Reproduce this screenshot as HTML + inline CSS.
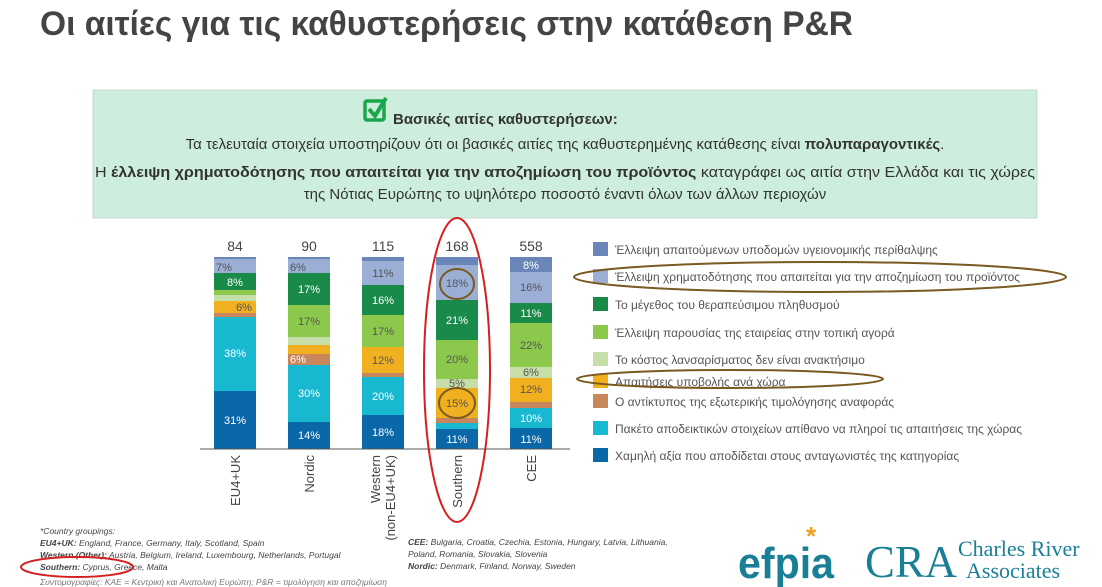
<!DOCTYPE html>
<html><head><meta charset="utf-8"><style>
html,body{margin:0;padding:0;background:#fff;}
svg{display:block;font-family:"Liberation Sans","DejaVu Sans",sans-serif;}
</style></head><body>
<svg width="1102" height="587" viewBox="0 0 1102 587" xmlns="http://www.w3.org/2000/svg">
<text x="40" y="35" font-size="34" font-weight="bold" fill="#444" textLength="813" lengthAdjust="spacingAndGlyphs">Οι αιτίες για τις καθυστερήσεις στην κατάθεση P&amp;R</text>
<rect x="93" y="90" width="944" height="128" fill="#cdeedd" stroke="#c8d8cf"/>
<rect x="365" y="101" width="19" height="19" fill="none" stroke="#1aa64a" stroke-width="3.5" rx="2"/>
<path d="M369 109 L375 116 L386 98" fill="none" stroke="#1aa64a" stroke-width="4"/>
<text x="393" y="124" font-size="15" font-weight="bold" fill="#333">Βασικές αιτίες καθυστερήσεων:</text>
<text x="565" y="149" font-size="15" fill="#333" text-anchor="middle">Τα τελευταία στοιχεία υποστηρίζουν ότι οι βασικές αιτίες της καθυστερημένης κατάθεσης είναι <tspan font-weight="bold">πολυπαραγοντικές</tspan>.</text>
<text x="565" y="177" font-size="15" fill="#333" text-anchor="middle" textLength="940" lengthAdjust="spacingAndGlyphs">Η <tspan font-weight="bold">έλλειψη χρηματοδότησης που απαιτείται για την αποζημίωση του προϊόντος</tspan> καταγράφει ως αιτία στην Ελλάδα και τις χώρες</text>
<text x="565" y="199" font-size="15" fill="#333" text-anchor="middle">της Νότιας Ευρώπης το υψηλότερο ποσοστό έναντι όλων των άλλων περιοχών</text>

<!-- bars -->
<g>
<!-- EU4+UK x214 -->
<rect x="214" y="257" width="42" height="2" fill="#6a86b8"/>
<rect x="214" y="259" width="42" height="14" fill="#9aaed6"/>
<rect x="214" y="273" width="42" height="17" fill="#1a8a4a"/>
<rect x="214" y="290" width="42" height="5" fill="#8cc84b"/>
<rect x="214" y="295" width="42" height="6" fill="#c6dea8"/>
<rect x="214" y="301" width="42" height="12" fill="#f0b020"/>
<rect x="214" y="313" width="42" height="4" fill="#c8875a"/>
<rect x="214" y="317" width="42" height="74" fill="#17b8d0"/>
<rect x="214" y="391" width="42" height="58" fill="#0a68a8"/>
<!-- Nordic -->
<rect x="288" y="257" width="42" height="2" fill="#6a86b8"/>
<rect x="288" y="259" width="42" height="14" fill="#9aaed6"/>
<rect x="288" y="273" width="42" height="32" fill="#1a8a4a"/>
<rect x="288" y="305" width="42" height="32" fill="#8cc84b"/>
<rect x="288" y="337" width="42" height="8" fill="#c6dea8"/>
<rect x="288" y="345" width="42" height="9" fill="#f0b020"/>
<rect x="288" y="354" width="42" height="11" fill="#c8875a"/>
<rect x="288" y="365" width="42" height="57" fill="#17b8d0"/>
<rect x="288" y="422" width="42" height="27" fill="#0a68a8"/>
<!-- Western -->
<rect x="362" y="257" width="42" height="4" fill="#6a86b8"/>
<rect x="362" y="261" width="42" height="24" fill="#9aaed6"/>
<rect x="362" y="285" width="42" height="30" fill="#1a8a4a"/>
<rect x="362" y="315" width="42" height="32" fill="#8cc84b"/>
<rect x="362" y="347" width="42" height="26" fill="#f0b020"/>
<rect x="362" y="373" width="42" height="4" fill="#c8875a"/>
<rect x="362" y="377" width="42" height="38" fill="#17b8d0"/>
<rect x="362" y="415" width="42" height="34" fill="#0a68a8"/>
<!-- Southern -->
<rect x="436" y="257" width="42" height="8" fill="#6a86b8"/>
<rect x="436" y="265" width="42" height="35" fill="#9aaed6"/>
<rect x="436" y="300" width="42" height="40" fill="#1a8a4a"/>
<rect x="436" y="340" width="42" height="39" fill="#8cc84b"/>
<rect x="436" y="379" width="42" height="9" fill="#c6dea8"/>
<rect x="436" y="388" width="42" height="30" fill="#f0b020"/>
<rect x="436" y="418" width="42" height="5" fill="#c8875a"/>
<rect x="436" y="423" width="42" height="6" fill="#17b8d0"/>
<rect x="436" y="429" width="42" height="20" fill="#0a68a8"/>
<!-- CEE -->
<rect x="510" y="257" width="42" height="15" fill="#6a86b8"/>
<rect x="510" y="272" width="42" height="31" fill="#9aaed6"/>
<rect x="510" y="303" width="42" height="20" fill="#1a8a4a"/>
<rect x="510" y="323" width="42" height="44" fill="#8cc84b"/>
<rect x="510" y="367" width="42" height="11" fill="#c6dea8"/>
<rect x="510" y="378" width="42" height="24" fill="#f0b020"/>
<rect x="510" y="402" width="42" height="6" fill="#c8875a"/>
<rect x="510" y="408" width="42" height="20" fill="#17b8d0"/>
<rect x="510" y="428" width="42" height="21" fill="#0a68a8"/>
</g>
<line x1="200" y1="449" x2="570" y2="449" stroke="#555" stroke-width="1"/>
<g font-size="11" text-anchor="middle" fill="#fff">
<text x="224" y="271" fill="#555">7%</text><text x="235" y="286">8%</text><text x="244" y="311" fill="#555">6%</text>
<text x="235" y="357">38%</text><text x="235" y="424">31%</text>
<text x="298" y="271" fill="#555">6%</text><text x="309" y="293">17%</text><text x="309" y="325" fill="#555">17%</text>
<text x="298" y="363" fill="#fff">6%</text><text x="309" y="397">30%</text><text x="309" y="439">14%</text>
<text x="383" y="277" fill="#555">11%</text><text x="383" y="304">16%</text><text x="383" y="335" fill="#555">17%</text>
<text x="383" y="364" fill="#555">12%</text><text x="383" y="400">20%</text><text x="383" y="436">18%</text>
<text x="457" y="287" fill="#555">18%</text><text x="457" y="324">21%</text><text x="457" y="363" fill="#555">20%</text>
<text x="457" y="387" fill="#555">5%</text><text x="457" y="407" fill="#555">15%</text><text x="457" y="443">11%</text>
<text x="531" y="269">8%</text><text x="531" y="291" fill="#555">16%</text><text x="531" y="317">11%</text>
<text x="531" y="349" fill="#555">22%</text><text x="531" y="376" fill="#555">6%</text><text x="531" y="393" fill="#555">12%</text>
<text x="531" y="422">10%</text><text x="531" y="443">11%</text>
</g>
<g font-size="14" text-anchor="middle" fill="#444">
<text x="235" y="251">84</text><text x="309" y="251">90</text><text x="383" y="251">115</text><text x="457" y="251">168</text><text x="531" y="251">558</text>
</g>
<g font-size="13" fill="#444">
<text transform="translate(240,455) rotate(-90)" text-anchor="end">EU4+UK</text>
<text transform="translate(314,455) rotate(-90)" text-anchor="end">Nordic</text>
<text transform="translate(380,455) rotate(-90)" text-anchor="end">Western</text>
<text transform="translate(395,455) rotate(-90)" text-anchor="end">(non-EU4+UK)</text>
<text transform="translate(462,455) rotate(-90)" text-anchor="end">Southern</text>
<text transform="translate(536,455) rotate(-90)" text-anchor="end">CEE</text>
</g>
<ellipse cx="457" cy="370" rx="33" ry="152" fill="none" stroke="#d42020" stroke-width="2"/>
<ellipse cx="457" cy="284" rx="17" ry="15" fill="none" stroke="#7a5a20" stroke-width="2"/>
<ellipse cx="457" cy="403" rx="18" ry="15" fill="none" stroke="#7a5a20" stroke-width="2"/>

<!-- legend -->
<g font-size="12" fill="#555">
<rect x="593" y="242" width="15" height="14" fill="#6a86b8"/><text x="615" y="254">Έλλειψη απαιτούμενων υποδομών υγειονομικής περίθαλψης</text>
<rect x="593" y="269" width="15" height="14" fill="#9aaed6"/><text x="615" y="281">Έλλειψη χρηματοδότησης που απαιτείται για την αποζημίωση του προϊόντος</text>
<rect x="593" y="297" width="15" height="14" fill="#1a8a4a"/><text x="615" y="309">Το μέγεθος του θεραπεύσιμου πληθυσμού</text>
<rect x="593" y="325" width="15" height="14" fill="#8cc84b"/><text x="615" y="337">Έλλειψη παρουσίας της εταιρείας στην τοπική αγορά</text>
<rect x="593" y="352" width="15" height="14" fill="#c6dea8"/><text x="615" y="364">Το κόστος λανσαρίσματος δεν είναι ανακτήσιμο</text>
<rect x="593" y="374" width="15" height="14" fill="#f0b020"/><text x="615" y="386">Απαιτήσεις υποβολής ανά χώρα</text>
<rect x="593" y="394" width="15" height="14" fill="#c8875a"/><text x="615" y="406">Ο αντίκτυπος της εξωτερικής τιμολόγησης αναφοράς</text>
<rect x="593" y="421" width="15" height="14" fill="#17b8d0"/><text x="615" y="433">Πακέτο αποδεικτικών στοιχείων απίθανο να πληροί τις απαιτήσεις της χώρας</text>
<rect x="593" y="448" width="15" height="14" fill="#0a68a8"/><text x="615" y="460">Χαμηλή αξία που αποδίδεται στους ανταγωνιστές της κατηγορίας</text>
</g>
<ellipse cx="820" cy="277" rx="246" ry="15" fill="none" stroke="#7a5a20" stroke-width="2"/>
<ellipse cx="730" cy="379" rx="153" ry="9" fill="none" stroke="#7a5a20" stroke-width="2"/>

<!-- footnotes -->
<g font-size="8.5" font-style="italic" fill="#444">
<text x="40" y="534">*Country groupings:</text>
<text x="40" y="546"><tspan font-weight="bold">EU4+UK:</tspan> England, France, Germany, Italy, Scotland, Spain</text>
<text x="40" y="558"><tspan font-weight="bold">Western (Other):</tspan> Austria, Belgium, Ireland, Luxembourg, Netherlands, Portugal</text>
<text x="40" y="570"><tspan font-weight="bold">Southern:</tspan> Cyprus, Greece, Malta</text>
<text x="40" y="585" fill="#777">Συντομογραφίες: ΚΑΕ = Κεντρική και Ανατολική Ευρώπη; P&amp;R = τιμολόγηση και αποζημίωση</text>
<text x="408" y="545"><tspan font-weight="bold">CEE:</tspan> Bulgaria, Croatia, Czechia, Estonia, Hungary, Latvia, Lithuania,</text>
<text x="408" y="557">Poland, Romania, Slovakia, Slovenia</text>
<text x="408" y="569"><tspan font-weight="bold">Nordic:</tspan> Denmark, Finland, Norway, Sweden</text>
</g>
<ellipse cx="77" cy="567" rx="56" ry="10" fill="none" stroke="#d42020" stroke-width="2"/>
<text x="738" y="578" font-size="44" font-weight="bold" fill="#1a7f96" textLength="96" lengthAdjust="spacingAndGlyphs">efpia</text>
<text x="806" y="545" font-size="26" font-weight="bold" fill="#f0a020">*</text>
<text x="865" y="577" font-size="46" font-family="Liberation Serif, serif" fill="#1a7f96" textLength="92" lengthAdjust="spacingAndGlyphs">CRA</text>
<text x="958" y="556" font-size="22" font-family="Liberation Serif, serif" fill="#1a7f96">Charles River</text>
<text x="966" y="578" font-size="22" font-family="Liberation Serif, serif" fill="#1a7f96">Associates</text>
</svg>
</body></html>
